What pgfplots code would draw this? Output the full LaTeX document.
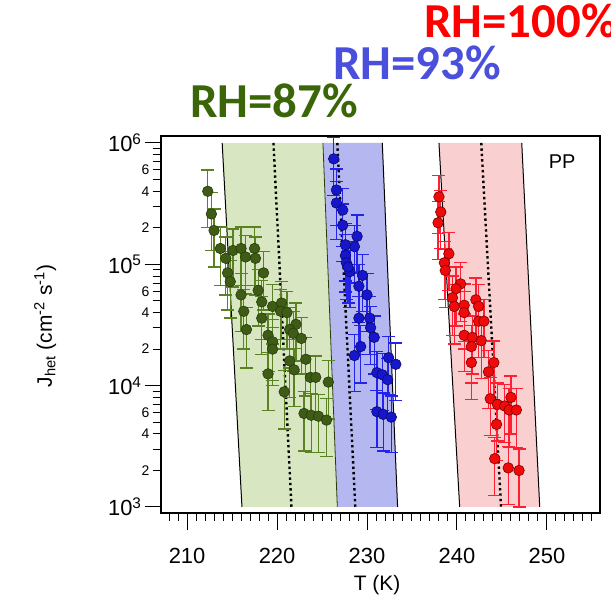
\documentclass[border=0pt]{standalone}
\usepackage{fontspec}
\setmainfont{Liberation Sans}
\newfontfamily\carlito{Carlito}
\usepackage{pgfplots}
\pgfplotsset{compat=1.18}
\usepackage{pgfplotstable}

\definecolor{gband}{RGB}{216,231,194}
\definecolor{bband}{RGB}{180,183,240}
\definecolor{rband}{RGB}{250,207,207}
\definecolor{gfill}{RGB}{62,92,22}
\definecolor{gedge}{RGB}{40,60,10}
\definecolor{gerr}{RGB}{90,130,35}
\definecolor{bfill}{RGB}{22,22,205}
\definecolor{bedge}{RGB}{10,10,100}
\definecolor{berr}{RGB}{35,35,235}
\definecolor{rfill}{RGB}{240,10,10}
\definecolor{redge}{RGB}{120,0,0}
\definecolor{rerr}{RGB}{255,30,50}
\definecolor{gtext}{RGB}{58,102,8}
\definecolor{btext}{RGB}{75,80,220}
\definecolor{rtext}{RGB}{255,0,0}

\pgfplotstableread{
T J e
212.3 4.0e5 2.0e5
212.7 2.6e5 1.3e5
213.0 1.9e5 0.95e5
213.7 1.35e5 0.68e5
214.3 1.12e5 0.56e5
215.1 1.3e5 0.65e5
216.0 1.35e5 0.68e5
216.5 1.15e5 0.58e5
217.5 1.35e5 0.68e5
217.6 1.12e5 0.56e5
214.5 8.5e4 4.3e4
214.8 7.2e4 3.6e4
218.5 8.5e4 4.3e4
216.0 5.6e4 2.8e4
217.9 6.1e4 3.0e4
218.3 4.9e4 2.5e4
216.3 4.1e4 2.1e4
219.5 4.5e4 2.3e4
220.5 4.8e4 2.4e4
220.4 4.1e4 2.1e4
221.1 4.0e4 2.0e4
222.1 3.2e4 1.6e4
218.3 3.6e4 1.8e4
216.6 2.9e4 1.5e4
219.0 2.6e4 1.3e4
219.5 2.3e4 1.2e4
219.5 2.0e4 1.0e4
221.4 2.9e4 1.5e4
221.8 2.7e4 1.4e4
222.7 2.45e4 1.2e4
221.4 1.6e4 0.8e4
221.9 1.35e4 0.68e4
223.2 1.65e4 0.83e4
219.0 1.25e4 0.63e4
220.8 8.9e3 4.5e3
223.7 1.17e4 0.59e4
224.3 1.17e4 0.59e4
225.7 1.07e4 0.54e4
223.0 5.9e3 3.0e3
223.8 5.7e3 2.9e3
224.6 5.6e3 2.8e3
225.5 5.2e3 2.6e3
}\green

\pgfplotstableread{
T J e
226.3 7.4e5 3.7e5
226.6 4.1e5 2.0e5
226.6 3.2e5 1.6e5
227.3 2.8e5 1.4e5
227.3 2.1e5 1.05e5
228.9 1.7e5 0.85e5
228.6 1.4e5 0.7e5
227.6 1.45e5 0.72e5
227.6 1.18e5 0.59e5
227.7 1.03e5 0.52e5
228.1 8.7e4 4.3e4
227.9 9.5e4 4.7e4
229.5 8.1e4 4.0e4
229.1 6.6e4 3.3e4
230.0 5.6e4 2.8e4
229.1 3.6e4 1.8e4
230.3 3.6e4 1.8e4
230.4 3.0e4 1.5e4
230.8 2.5e4 1.25e4
229.3 2.1e4 1.05e4
228.6 1.77e4 0.88e4
232.4 1.7e4 0.85e4
233.2 1.5e4 0.75e4
231.1 1.28e4 0.64e4
231.7 1.23e4 0.61e4
232.3 1.12e4 0.56e4
231.1 6.1e3 3.0e3
231.8 5.8e3 2.9e3
232.7 5.5e3 2.7e3
}\blue

\pgfplotstableread{
T J e
238.0 3.6e5 1.8e5
238.2 2.7e5 1.35e5
237.9 2.2e5 1.1e5
239.1 1.22e5 0.61e5
238.6 1.03e5 0.52e5
238.7 8.9e4 4.5e4
240.4 6.9e4 3.5e4
239.9 6.3e4 3.2e4
239.5 5.3e4 2.7e4
239.7 4.5e4 2.3e4
240.8 4.6e4 2.3e4
240.8 4.0e4 2.0e4
242.1 5.1e4 2.6e4
242.4 4.5e4 2.3e4
242.4 3.4e4 1.7e4
243.0 3.4e4 1.7e4
240.8 2.6e4 1.3e4
241.7 2.5e4 1.25e4
242.7 2.35e4 1.2e4
241.6 2.1e4 1.05e4
241.6 1.55e4 0.78e4
244.1 1.55e4 0.78e4
243.5 1.3e4 0.65e4
243.7 7.8e3 3.9e3
244.5 7.0e3 3.5e3
245.3 6.8e3 3.4e3
246.0 8.0e3 4.0e3
245.8 6.3e3 3.2e3
246.6 6.3e3 3.2e3
244.4 4.8e3 2.4e3
244.2 2.5e3 1.25e3
245.7 2.1e3 1.05e3
246.9 2.0e3 1.0e3
}\red

\begin{document}
\begin{tikzpicture}
\path[use as bounding box] (-161bp,-87bp) rectangle (450bp,513bp);
\begin{axis}[
  at={(0bp,0bp)}, anchor=south west,
  scale only axis, width=439bp, height=377bp,
  ymode=log,
  xmin=207.1, xmax=255.9,
  ymin=892, ymax=1.142e6,
  axis line style={line width=1.2bp},
  tick style={line width=1bp, black},
  tick align=outside,
  xtick pos=bottom, ytick pos=left,
  major tick length=8bp,
  xtick={208,209,...,255},
  xticklabels={,,,,,,,,,,,,,,,,,,,,,,,,,,,,,,,,,,,,,,,,,,,,,,,,},
  extra x ticks={210,220,230,240,250},
  extra x tick labels={210,220,230,240,250},
  extra x tick style={major tick length=17bp, xticklabel style={yshift=-15bp}},
  ytick={2e3,3e3,4e3,5e3,6e3,7e3,8e3,9e3,2e4,3e4,4e4,5e4,6e4,7e4,8e4,9e4,2e5,3e5,4e5,5e5,6e5,7e5,8e5,9e5},
  yticklabels={2,,4,,6,,,,2,,4,,6,,,,2,,4,,6,,,},
  yticklabel style={font=\fontsize{14}{14}\selectfont},
  extra y ticks={1e3,1e4,1e5,1e6},
  extra y tick labels={10\textsuperscript{3},10\textsuperscript{4},10\textsuperscript{5},10\textsuperscript{6}},
  extra y tick style={major tick length=16bp, yticklabel style={font=\fontsize{22}{22}\selectfont}},
  xticklabel style={font=\fontsize{22}{22}\selectfont},
  xlabel={T (K)},
  ylabel={J\textsubscript{het} (cm\textsuperscript{-2} s\textsuperscript{-1})},
  label style={font=\fontsize{21}{21}\selectfont},
  xlabel style={at={(axis description cs:0.492,-0.191)}, anchor=center},
  ylabel style={at={(axis description cs:-0.264,0.496)}, anchor=center, rotate=0},
  clip=true,
]
% bands
\addplot[fill=gband, draw=none] coordinates {(213.9,1e6) (225.1,1e6) (226.7,1e3) (216.1,1e3)} -- cycle;
\addplot[fill=bband, draw=none] coordinates {(225.1,1e6) (231.7,1e6) (233.4,1e3) (226.7,1e3)} -- cycle;
\addplot[fill=rband, draw=none] coordinates {(238.0,1e6) (247.2,1e6) (249.2,1e3) (240.3,1e3)} -- cycle;
% band edges
\addplot[black, line width=1bp] coordinates {(213.9,1e6) (216.1,1e3)};
\addplot[gedge, line width=0.8bp] coordinates {(225.1,1e6) (226.7,1e3)};
\addplot[black, line width=1bp] coordinates {(231.7,1e6) (233.4,1e3)};
\addplot[black, line width=1bp] coordinates {(238.0,1e6) (240.3,1e3)};
\addplot[black, line width=1bp] coordinates {(247.2,1e6) (249.2,1e3)};
% dotted lines
\addplot[black, line width=2.4bp, dash pattern=on 2.4bp off 3bp] coordinates {(219.6,1e6) (221.6,1e3)};
\addplot[black, line width=2.4bp, dash pattern=on 2.4bp off 3bp] coordinates {(226.7,1e6) (228.7,1e3)};
\addplot[black, line width=2.4bp, dash pattern=on 2.4bp off 3bp] coordinates {(242.7,1e6) (244.9,1e3)};
% data
\addplot[only marks, mark=*, mark size=5.3bp, mark options={fill=gfill, draw=gedge, line width=0.6bp},
  error bars/.cd, y dir=both, y explicit,
  error bar style={gerr, line width=1.3bp},
  error mark options={gerr, line width=1.3bp, mark size=6.5bp, rotate=90}]
  table[x=T, y=J, y error=e] {\green};
\addplot[only marks, mark=*, mark size=5.3bp, mark options={fill=bfill, draw=bedge, line width=0.6bp},
  error bars/.cd, y dir=both, y explicit,
  error bar style={berr, line width=1.3bp},
  error mark options={berr, line width=1.3bp, mark size=6.5bp, rotate=90}]
  table[x=T, y=J, y error=e] {\blue};
\addplot[only marks, mark=*, mark size=5.3bp, mark options={fill=rfill, draw=redge, line width=0.6bp},
  error bars/.cd, y dir=both, y explicit,
  error bar style={rerr, line width=1.3bp},
  error mark options={rerr, line width=1.3bp, mark size=6.5bp, rotate=90}]
  table[x=T, y=J, y error=e] {\red};
\node[font=\fontsize{20}{20}\selectfont] at (axis cs:251.7,7.0e5) {PP};
\end{axis}
\node[anchor=base west, text=gtext, font=\carlito\bfseries\fontsize{49}{49}\selectfont, inner sep=0pt] at (29bp,395bp) {RH=87\%};
\node[anchor=base west, text=btext, font=\carlito\bfseries\fontsize{49}{49}\selectfont, inner sep=0pt] at (172bp,433bp) {RH=93\%};
\node[anchor=base west, text=rtext, font=\carlito\bfseries\fontsize{49}{49}\selectfont, inner sep=0pt] at (263bp,475bp) {RH=100\%};
\end{tikzpicture}
\end{document}
